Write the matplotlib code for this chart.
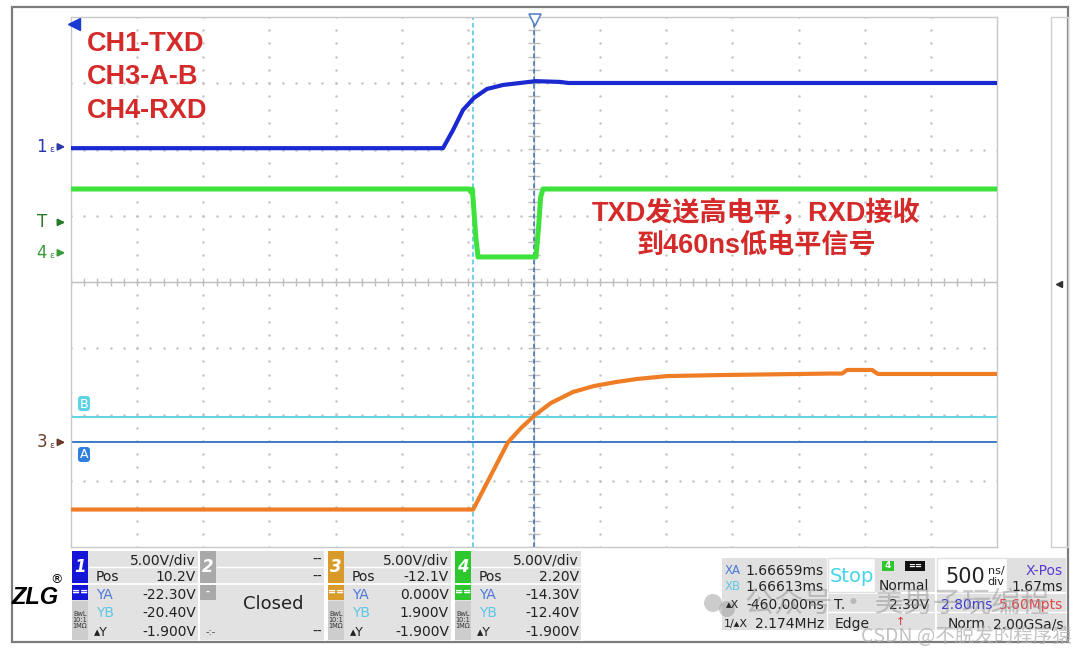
import numpy as np
import matplotlib.pyplot as plt
from matplotlib.patches import Rectangle, FancyBboxPatch, Circle

W, H = 1080, 653

# trace data: time in ns (0 = trigger), level in volts
t_ch1 = [-3500, -688, -612, -537, -454, -355, -234, -106, 15, 197, 260, 3500]
v_ch1 = [-0.1, -0.1, 1.27, 2.78, 3.69, 4.37, 4.67, 4.82, 4.96, 4.90, 4.82, 4.82]

t_ch4 = [-3500, -490, -478, -466, -440, -423, 15, 35, 50, 68, 3500]
v_ch4 = [4.82, 4.82, 4.60, 4.82, 1.2, -0.31, -0.31, 2.0, 4.2, 4.82, 4.82]

t_ch3 = [-3500, -460, -197, -98, 8, 128, 295, 454, 620, 779, 1006, 1429,
         2238, 2330, 2366, 2555, 2600, 2721, 3500]
v_ch3 = [-5.07, -5.07, 0.0, 1.08, 2.06, 2.97, 3.80, 4.25, 4.55, 4.78, 5.00, 5.08,
         5.19, 5.19, 5.46, 5.46, 5.16, 5.16, 5.16]

volt_div = 5.0
pos_ch1, pos_ch3, pos_ch4 = 10.2, -12.1, 2.20
trig_level = 2.30
cursor_x = [-460, 0]          # ns
cursor_y = [0.0, 1.9]         # V on CH3 (A, B)

# readout panel texts
panel_num = ['1', '2', '3', '4']
scale_txt = ['5.00V/div', '--', '5.00V/div', '5.00V/div']
pos_txt = ['10.2V', '--', '-12.1V', '2.20V']
ya_txt = ['-22.30V', '', '0.000V', '-14.30V']
yb_txt = ['-20.40V', '', '1.900V', '-12.40V']
dy_txt = ['-1.900V', '--', '-1.900V', '-1.900V']
xa_txt, xb_txt = '1.66659ms', '1.66613ms'
dx_txt, fdx_txt = '-460.000ns', '2.174MHz'

fig = plt.figure(figsize=(W / 100, H / 100), dpi=100)

# scope screen: 14 x 8 divisions
ax = fig.add_axes([71 / W, 1 - 547 / H, 926 / W, 530 / H])
ax.set_xlim(-3500, 3500)
ax.set_ylim(-4, 4)
ax.set_xticks([])
ax.set_yticks([])
for s in ax.spines.values():
    s.set_color('#c8c8c8')
    s.set_linewidth(1)

# dotted grid
for k in range(-6, 7):
    if k == 0:
        continue
    yy = np.arange(-4, 4.01, 0.2)
    ax.plot(np.full_like(yy, k * 500), yy, ls='none', marker='.', ms=1.6, color='#c4c4c4')
for k in range(-3, 4):
    if k == 0:
        continue
    xx = np.arange(-3500, 3501, 100)
    ax.plot(xx, np.full_like(xx, k, dtype=float), ls='none', marker='.', ms=1.6, color='#c4c4c4')
# centre axes with small ticks
ax.axhline(0, color='#bdbdbd', lw=1)
ax.axvline(0, color='#bdbdbd', lw=1)
xx = np.arange(-3500, 3501, 100)
ax.vlines(xx, -0.06, 0.06, color='#bdbdbd', lw=1)
yy = np.arange(-4, 4.01, 0.2)
ax.hlines(yy, -45, 45, color='#bdbdbd', lw=1)

# cursors
ax.axhline((cursor_y[1] + pos_ch3) / volt_div, color='#5fd3e6', lw=1.4, zorder=2)
ax.axhline((cursor_y[0] + pos_ch3) / volt_div, color='#3b7cc4', lw=1.4, zorder=2)
ax.axvline(cursor_x[0], color='#45c3e0', lw=1.1, ls=(0, (3, 2)), zorder=2)
ax.axvline(cursor_x[1], color='#3a6fb8', lw=1.1, ls=(0, (3, 2)), zorder=2)

# traces
ax.plot(t_ch1, np.array(v_ch1) / volt_div + pos_ch1 / volt_div, color='#1a2ad0', lw=3, zorder=4)
ax.plot(t_ch4, np.array(v_ch4) / volt_div + pos_ch4 / volt_div, color='#3de23d', lw=3.6, zorder=4)
ax.plot(t_ch3, np.array(v_ch3) / volt_div + pos_ch3 / volt_div, color='#ee7d25', lw=3, zorder=4)

# overlay in pixel coordinates
ov = fig.add_axes([0, 0, 1, 1], zorder=5)
ov.set_xlim(0, W)
ov.set_ylim(H, 0)
ov.axis('off')
ov.patch.set_alpha(0)

ov.add_patch(Rectangle((12, 7), 1056, 635, fill=False, ec='#7d7d7d', lw=1.6))
ov.add_patch(Rectangle((1051, 17), 17, 530, fill=False, ec='#cfcfcf', lw=1))
ov.plot(1059, 284, marker='<', ms=5, color='#333333')
ov.plot(74, 24, marker='<', ms=8, color='#1a3ad0')
ov.plot(535, 20, marker='v', ms=9, mfc='white', mec='#5a86c8', mew=1.2)

# channel markers at the left
def ch_marker(y, label, color, eps=True):
    ov.text(47, y, label, color=color, fontsize=12, ha='right', va='center')
    if eps:
        ov.text(52, y + 3, 'ɛ', color=color, fontsize=6.5, ha='center', va='center')
    ov.annotate('', xy=(68, y), xytext=(56, y),
                arrowprops=dict(arrowstyle='-|>', color=color, lw=1.4, mutation_scale=10))

def y_px(v, pos):
    return 282 - (v + pos) / volt_div * 66.25

ch_marker(y_px(0, pos_ch1), '1', '#2a3aa8')
ch_marker(y_px(trig_level, pos_ch4), 'T', '#2b7a2b', eps=False)
ch_marker(y_px(0, pos_ch4), '4', '#3a9a3a')
ch_marker(y_px(0, pos_ch3), '3', '#6b3a2a')

# cursor labels
ov.add_patch(FancyBboxPatch((78, 396), 12, 15, boxstyle='round,pad=0,rounding_size=3', fc='#5fd3e6', ec='none'))
ov.text(84, 404, 'B', color='white', fontsize=9, ha='center', va='center')
ov.add_patch(FancyBboxPatch((78, 447), 12, 15, boxstyle='round,pad=0,rounding_size=3', fc='#2f7fe0', ec='none'))
ov.text(84, 455, 'A', color='white', fontsize=9, ha='center', va='center')

# annotations
red = '#d42a2a'
for i, s in enumerate(['CH1-TXD', 'CH3-A-B', 'CH4-RXD']):
    ov.text(87, 44 + i * 33.5, s, color=red, fontsize=19.5, fontweight='bold',
            family=['Liberation Sans', 'DejaVu Sans'], ha='left', va='center')
cjk = ['Liberation Sans', 'Noto Sans CJK SC']
ov.text(756, 213, 'TXD发送高电平，RXD接收', color=red, fontsize=19.5, fontweight='bold',
        family=cjk, ha='center', va='center')
ov.text(756, 246, '到460ns低电平信号', color=red, fontsize=19.5, fontweight='bold',
        family=cjk, ha='center', va='center')

# bottom readout panel
ov.text(35, 598, 'ZLG', fontsize=17, fontweight='bold', style='italic', ha='center', va='center',
        family=['Liberation Sans'])
ov.text(57, 580, '®', fontsize=9, ha='center', va='center')

panel_x = [72, 200, 328, 455]
panel_end = [199, 325, 452, 582]
panel_color = ['#1515d8', '#a9a9a9', '#d89a28', '#2ec82e']
fs = 10
for i in range(4):
    x0, x1, c = panel_x[i], panel_end[i], panel_color[i]
    ov.add_patch(Rectangle((x0, 551), x1 - x0, 89, fc='#e2e2e2', ec='none'))
    ov.add_patch(Rectangle((x0, 551), 16, 32, fc=c, ec='none'))
    ov.text(x0 + 8, 567, panel_num[i], color='white', fontsize=12, fontweight='bold',
            style='italic', ha='center', va='center')
    ov.add_patch(Rectangle((x0, 585), 16, 15, fc=c, ec='none'))
    ov.text(x0 + 8, 592, '==' if i != 1 else '-', color='white', fontsize=7, fontweight='bold',
            ha='center', va='center')
    ov.plot([x0 + 17, x1], [567, 567], color='white', lw=1)
    ov.plot([x0, x1], [584, 584], color='white', lw=1.2)
    ov.plot([x1, x1], [551, 640], color='white', lw=1.5)
    ov.text(x1 - 3, 560, scale_txt[i], fontsize=fs, ha='right', va='center', color='#222222')
    ov.text(x1 - 3, 577, pos_txt[i], fontsize=fs, ha='right', va='center', color='#222222')
    ov.text(x1 - 3, 632, dy_txt[i], fontsize=fs, ha='right', va='center', color='#222222')
    if i == 1:
        ov.text(273, 604, 'Closed', fontsize=13, ha='center', va='center', color='#222222')
        ov.text(x0 + 6, 632, '-:-', fontsize=7, ha='left', va='center', color='#444444')
        continue
    ov.add_patch(Rectangle((x0, 601), 16, 39, fc='#cdcdcd', ec='none'))
    ov.text(x0 + 8, 620, 'BwL\n10:1\n1MΩ', fontsize=4.8, ha='center', va='center',
            linespacing=0.95, color='#333333')
    ov.text(x0 + 24, 577, 'Pos', fontsize=fs, ha='left', va='center', color='#222222')
    ov.text(x0 + 24, 595, 'YA', fontsize=fs, ha='left', va='center', color='#4a78dc')
    ov.text(x0 + 24, 613, 'YB', fontsize=fs, ha='left', va='center', color='#5fc6e6')
    ov.text(x0 + 22, 632, '▴Y', fontsize=fs - 1, ha='left', va='center', color='#222222')
    ov.text(x1 - 3, 595, ya_txt[i], fontsize=fs, ha='right', va='center', color='#222222')
    ov.text(x1 - 3, 613, yb_txt[i], fontsize=fs, ha='right', va='center', color='#222222')

# time / trigger readouts
g = '#e0e0e0'
ov.add_patch(Rectangle((722, 558), 105, 72, fc=g, ec='none'))
ov.add_patch(Rectangle((828, 558), 47, 34, fc='white', ec=g, lw=1))
ov.add_patch(Rectangle((876, 558), 59, 34, fc=g, ec='none'))
ov.add_patch(Rectangle((828, 594), 107, 36, fc=g, ec='none'))
ov.add_patch(Rectangle((937, 558), 70, 34, fc='white', ec=g, lw=1))
ov.add_patch(Rectangle((1008, 558), 58, 34, fc=g, ec='none'))
ov.add_patch(Rectangle((937, 594), 129, 36, fc=g, ec='none'))
ov.plot([828, 935], [612, 612], color='white', lw=1)
ov.plot([937, 1066], [612, 612], color='white', lw=1)

ov.text(725, 571, 'XA', fontsize=8.5, color='#4a78dc', va='center')
ov.text(725, 587, 'XB', fontsize=8.5, color='#5fc6e6', va='center')
ov.text(726, 605, '▴X', fontsize=8, color='#222222', va='center')
ov.text(724, 624, '1/▴X', fontsize=8, color='#222222', va='center')
ov.text(824, 571, xa_txt, fontsize=fs, ha='right', va='center', color='#222222')
ov.text(824, 587, xb_txt, fontsize=fs, ha='right', va='center', color='#222222')
ov.text(824, 605, dx_txt, fontsize=fs, ha='right', va='center', color='#222222')
ov.text(824, 624, fdx_txt, fontsize=fs, ha='right', va='center', color='#222222')

ov.text(852, 576, 'Stop', fontsize=14, color='#45d4ea', ha='center', va='center')
ov.add_patch(Rectangle((882, 561), 12, 10, fc='#2ec82e', ec='none'))
ov.text(888, 566, '4', fontsize=6.5, color='white', ha='center', va='center', fontweight='bold')
ov.add_patch(Rectangle((905, 561), 20, 10, fc='#111111', ec='none'))
ov.text(915, 566, '==', fontsize=6, color='white', ha='center', va='center', fontweight='bold')
ov.text(904, 586, 'Normal', fontsize=fs, ha='center', va='center', color='#222222')
ov.text(834, 605, 'T.', fontsize=fs, ha='left', va='center', color='#222222')
ov.text(929, 605, '%.2fV' % trig_level, fontsize=fs, ha='right', va='center', color='#222222')
ov.text(852, 624, 'Edge', fontsize=fs, ha='center', va='center', color='#222222')
ov.text(900, 622, '↑', fontsize=8, ha='center', va='center', color='#d03030')

ov.text(965, 577, '500', fontsize=15, ha='center', va='center', color='#222222')
ov.text(996, 571, 'ns/', fontsize=8, ha='center', va='center', color='#222222')
ov.text(996, 582, 'div', fontsize=8, ha='center', va='center', color='#222222')
ov.text(1063, 571, 'X-Pos', fontsize=fs, ha='right', va='center', color='#5a3ad0')
ov.text(1063, 587, '1.67ms', fontsize=fs, ha='right', va='center', color='#222222')
ov.text(941, 605, '2.80ms', fontsize=fs, ha='left', va='center', color='#3a3ad0')
ov.text(1063, 605, '5.60Mpts', fontsize=fs, ha='right', va='center', color='#e04848')
ov.text(948, 624, 'Norm', fontsize=fs, ha='left', va='center', color='#222222')
ov.text(1063, 624, '2.00GSa/s', fontsize=fs, ha='right', va='center', color='#222222')

# watermarks (semi-transparent, laid over the readouts as in the screenshot)
ov.add_patch(Circle((713, 603), 9, fc='#9a9a9a', ec='none', alpha=0.5))
ov.add_patch(Circle((727, 609), 8, fc='#9a9a9a', ec='none', alpha=0.5))
ov.text(745, 605, '公众号 · 美男子玩编程', fontsize=21, color='#8a8a8a', alpha=0.45,
        family=['Noto Sans CJK SC', 'DejaVu Sans'], ha='left', va='center')
ov.text(1072, 636, 'CSDN @不脱发的程序猿', fontsize=14, color='#b0b0b0', alpha=0.75,
        family=['Noto Sans CJK SC', 'DejaVu Sans'], ha='right', va='center')

fig.savefig('out.png', dpi=100)
